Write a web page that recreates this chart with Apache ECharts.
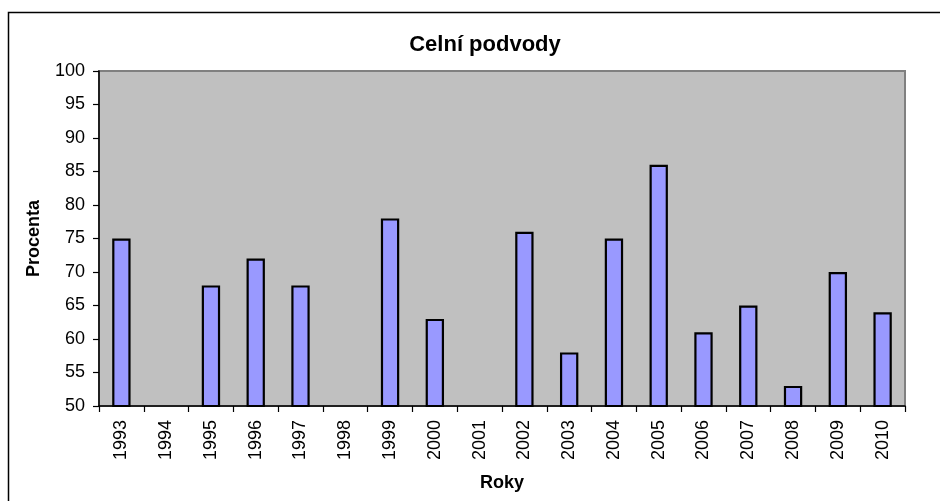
<!DOCTYPE html>
<html>
<head>
<meta charset="utf-8">
<script src="https://cdn.jsdelivr.net/npm/echarts@6/dist/echarts.min.js"></script>
<style>
html,body{margin:0;padding:0;background:#fff;}
#chart{width:940px;height:501px;}
</style>
</head>
<body>
<div id="chart"></div>
<script>
const categories = ['1993','1994','1995','1996','1997','1998','1999','2000','2001','2002','2003','2004','2005','2006','2007','2008','2009','2010'];
const values = [75, null, 68, 72, 68, null, 78, 63, null, 76, 58, 75, 86, 61, 65, 53, 70, 64];
const titleText = 'Celní podvody';
const xName = 'Roky';
const yName = 'Procenta';

const chart = echarts.init(document.getElementById('chart'), null, {renderer: 'canvas'});
const font = '"Liberation Sans", Arial, sans-serif';
chart.setOption({
  backgroundColor: '#ffffff',
  animation: false,
  title: {
    text: titleText,
    left: 480,
    textAlign: 'center',
    top: 29,
    textStyle: {fontFamily: font, fontSize: 22, fontWeight: 'bold', color: '#000'}
  },
  graphic: [{
    type: 'rect',
    shape: {x: 8.5, y: 12.5, width: 1000, height: 1000},
    style: {fill: 'none', stroke: '#000', lineWidth: 1.5},
    silent: true
  }],
  grid: {
    left: 99, right: 35, top: 71, bottom: 95,
    show: true,
    backgroundColor: '#C0C0C0',
    borderColor: '#808080',
    borderWidth: 2
  },
  xAxis: {
    type: 'category',
    data: categories,
    boundaryGap: true,
    name: xName,
    nameLocation: 'middle',
    nameGap: 68,
    nameTextStyle: {fontFamily: font, fontSize: 18, fontWeight: 'bold', color: '#000'},
    axisLine: {lineStyle: {color: '#000', width: 1.5}},
    axisTick: {show: true, interval: 0, length: 6, inside: false, lineStyle: {color: '#000', width: 1.2}},
    axisLabel: {rotate: 90, interval: 0, margin: 14, fontFamily: font, fontSize: 18, color: '#000'},
    splitLine: {show: false}
  },
  yAxis: {
    type: 'value',
    min: 50, max: 100, interval: 5,
    name: yName,
    nameLocation: 'middle',
    nameGap: 56,
    nameRotate: 90,
    nameTextStyle: {fontFamily: font, fontSize: 18, fontWeight: 'bold', color: '#000'},
    axisLine: {show: true, lineStyle: {color: '#000', width: 1.5}},
    axisTick: {show: true, length: 6, inside: false, lineStyle: {color: '#000', width: 1.2}},
    axisLabel: {margin: 14, fontFamily: font, fontSize: 18, color: '#000'},
    splitLine: {show: false}
  },
  series: [{
    type: 'bar',
    data: values,
    barWidth: '41%',
    itemStyle: {color: '#9999FF', borderColor: '#000', borderWidth: 2.2}
  }]
});
</script>
</body>
</html>
